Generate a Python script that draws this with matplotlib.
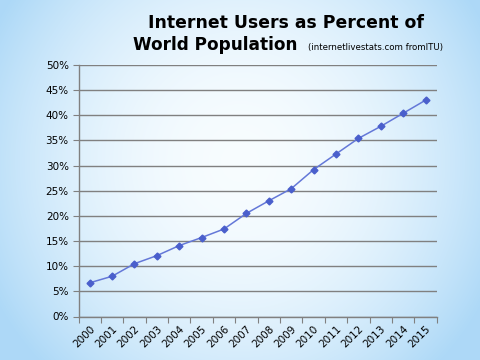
import numpy as np
import matplotlib
matplotlib.use("Agg")
import matplotlib.pyplot as plt
from matplotlib.ticker import FuncFormatter, MultipleLocator

years = ["2000", "2001", "2002", "2003", "2004", "2005", "2006", "2007",
         "2008", "2009", "2010", "2011", "2012", "2013", "2014", "2015"]
pct = [6.7, 8.0, 10.5, 12.1, 14.1, 15.7, 17.4, 20.5,
       23.0, 25.4, 29.2, 32.3, 35.4, 37.8, 40.4, 43.0]

W, H = 480, 360
fig = plt.figure(figsize=(4.8, 3.6), dpi=100)

# background gradient
bg = fig.add_axes([0, 0, 1, 1])
yy, xx = np.mgrid[0:1:360j, 0:1:480j]
d = np.sqrt(((xx - 0.5) / 0.58) ** 2 + ((yy - 0.45) / 0.8) ** 2)
t = np.clip(d, 0, 1) ** 2.0
white = np.array([0.97, 0.99, 1.0])
edge = np.array([0.68, 0.85, 0.97])
img = white[None, None, :] * (1 - t[..., None]) + edge[None, None, :] * t[..., None]
bg.imshow(img, aspect="auto", extent=[0, 1, 0, 1], origin="upper")
bg.set_axis_off()

ax = fig.add_axes([78.5 / W, 1 - 316.5 / H, (436.7 - 78.5) / W, (316.5 - 65) / H])
ax.patch.set_alpha(0)
x = np.arange(len(years))
ax.plot(x, pct, color="#6478D8", lw=1.1, marker="D", markersize=3.5,
        markerfacecolor="#4A5FCC", markeredgecolor="#4A5FCC", zorder=3)
ax.set_xlim(-0.5, len(years) - 0.5)
ax.set_ylim(0, 50)
ax.yaxis.set_major_locator(MultipleLocator(5))
ax.yaxis.set_major_formatter(FuncFormatter(lambda v, p: f"{int(round(v))}%"))
ax.grid(axis="y", color="#808080", lw=1.0)
ax.set_axisbelow(True)
for s in ["top", "right"]:
    ax.spines[s].set_visible(False)
for s in ["left", "bottom"]:
    ax.spines[s].set_color("#808080")
    ax.spines[s].set_linewidth(1.0)
ax.set_xticks(np.arange(-0.5, len(years)), minor=False)
ax.set_xticklabels([])
ax.set_xticks(x, minor=True)
ax.set_xticklabels(years, minor=True, rotation=45, ha="right", va="top",
                   rotation_mode="anchor", fontsize=7.5)
ax.tick_params(axis="x", which="major", length=4, color="#808080", direction="out")
ax.tick_params(axis="x", which="minor", length=0, pad=5)
ax.tick_params(axis="y", length=4, color="#808080", labelsize=7.5, pad=3)

fig.text(286 / W, 1 - 28 / H, "Internet Users as Percent of", ha="center", va="baseline",
         fontsize=12.4, fontweight="bold", color="black")
fig.text(133 / W, 1 - 50 / H, "World Population", ha="left", va="baseline",
         fontsize=12.2, fontweight="bold", color="black")
fig.text(443 / W, 1 - 50 / H, "(internetlivestats.com fromITU)", ha="right", va="baseline",
         fontsize=6.2, color="black")

fig.savefig("out.png", dpi=100)
